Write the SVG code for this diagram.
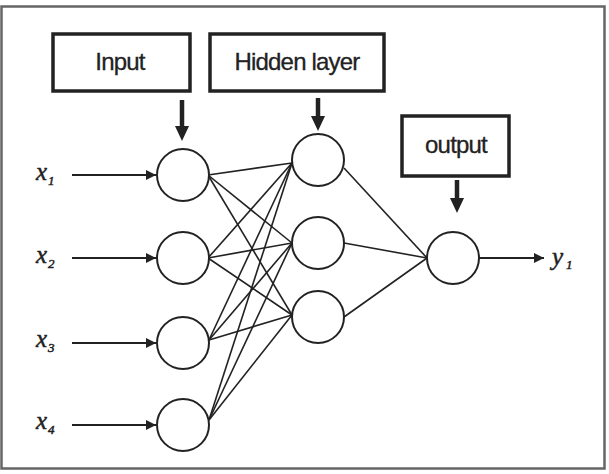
<svg xmlns="http://www.w3.org/2000/svg" width="609" height="474" viewBox="0 0 609 474">
<style>
.box{fill:#fff;stroke:#222;stroke-width:3.5}
.lbl{font-family:"Liberation Sans",Arial,sans-serif;font-size:24px;fill:#222;text-anchor:middle;letter-spacing:-0.8px;stroke:#222;stroke-width:0.3}
.node{fill:#fff;stroke:#222;stroke-width:2}
.var{font-family:"Liberation Serif","Times New Roman",serif;font-style:italic;font-size:25px;fill:#222;stroke:#222;stroke-width:0.5}
.sub{font-size:13px}
.ed{stroke:#222;stroke-width:1.6;fill:none}
.in{stroke:#222;stroke-width:2;fill:none}
.thick{stroke:#222;stroke-width:4.5;fill:none}
</style>
<defs>
<marker id="ah" viewBox="0 0 10 10" refX="10" refY="5" markerWidth="16" markerHeight="10" markerUnits="userSpaceOnUse" orient="auto"><path d="M0,0 L10,5 L0,10 Z" fill="#222"/></marker>
</defs>
<rect x="0" y="0" width="609" height="474" fill="#fff"/>
<rect x="1.5" y="6.5" width="603" height="462" fill="none" stroke="#666" stroke-width="2.5"/>
<g id="connectors">
<line class="thick" x1="182" y1="100" x2="182" y2="127"/><path d="M175,126 L189,126 L182,141 Z" fill="#222"/>
<line class="thick" x1="318" y1="98" x2="318" y2="117"/><path d="M311,116 L325,116 L318,131 Z" fill="#222"/>
<line class="thick" x1="457" y1="180" x2="457" y2="199"/><path d="M450,198 L464,198 L457,213 Z" fill="#222"/>
<line class="in" x1="72" y1="175" x2="156" y2="175" marker-end="url(#ah)"/>
<line class="in" x1="72" y1="258" x2="156" y2="258" marker-end="url(#ah)"/>
<line class="in" x1="72" y1="343" x2="156" y2="343" marker-end="url(#ah)"/>
<line class="in" x1="72" y1="425" x2="156" y2="425" marker-end="url(#ah)"/>
<line class="in" x1="479" y1="258" x2="544" y2="258" marker-end="url(#ah)"/>
<g class="ed">
<line x1="208" y1="175" x2="292" y2="163"/><line x1="208" y1="175" x2="292" y2="243"/><line x1="208" y1="175" x2="292" y2="315"/>
<line x1="208" y1="258" x2="292" y2="163"/><line x1="208" y1="258" x2="292" y2="243"/><line x1="208" y1="258" x2="292" y2="315"/>
<line x1="209" y1="340" x2="292" y2="163"/><line x1="209" y1="340" x2="292" y2="243"/><line x1="209" y1="340" x2="292" y2="315"/>
<line x1="209" y1="420" x2="292" y2="163"/><line x1="209" y1="420" x2="292" y2="243"/><line x1="209" y1="420" x2="292" y2="315"/>
<line x1="344" y1="168" x2="427" y2="258"/><line x1="344" y1="243" x2="427" y2="258"/><line x1="344" y1="317" x2="427" y2="258"/>
</g>
</g>
<g id="box-input"><rect class="box" x="53" y="34" width="137" height="57"/><text class="lbl" x="120" y="70">Input</text></g>
<g id="box-hidden"><rect class="box" x="210" y="34" width="174" height="57"/><text class="lbl" x="297" y="70">Hidden layer</text></g>
<g id="box-output"><rect class="box" x="402" y="116" width="107" height="60"/><text class="lbl" x="456" y="153">output</text></g>
<g id="in1"><circle class="node" cx="183" cy="175" r="26"/></g>
<g id="in2"><circle class="node" cx="183" cy="258" r="26"/></g>
<g id="in3"><circle class="node" cx="183" cy="343" r="26"/></g>
<g id="in4"><circle class="node" cx="183" cy="425" r="26"/></g>
<g id="h1"><circle class="node" cx="318" cy="160" r="26"/></g>
<g id="h2"><circle class="node" cx="318" cy="243" r="26"/></g>
<g id="h3"><circle class="node" cx="318" cy="317" r="26"/></g>
<g id="out"><circle class="node" cx="453" cy="258" r="26"/></g>
<g id="labels">
<text class="var" x="36" y="180">x<tspan class="sub" dx="1" dy="5">1</tspan></text>
<text class="var" x="36" y="263">x<tspan class="sub" dx="1" dy="5">2</tspan></text>
<text class="var" x="36" y="347">x<tspan class="sub" dx="1" dy="5">3</tspan></text>
<text class="var" x="36" y="429">x<tspan class="sub" dx="1" dy="5">4</tspan></text>
<text class="var" x="552" y="265">y<tspan class="sub" dx="3" dy="4">1</tspan></text>
</g>
</svg>
